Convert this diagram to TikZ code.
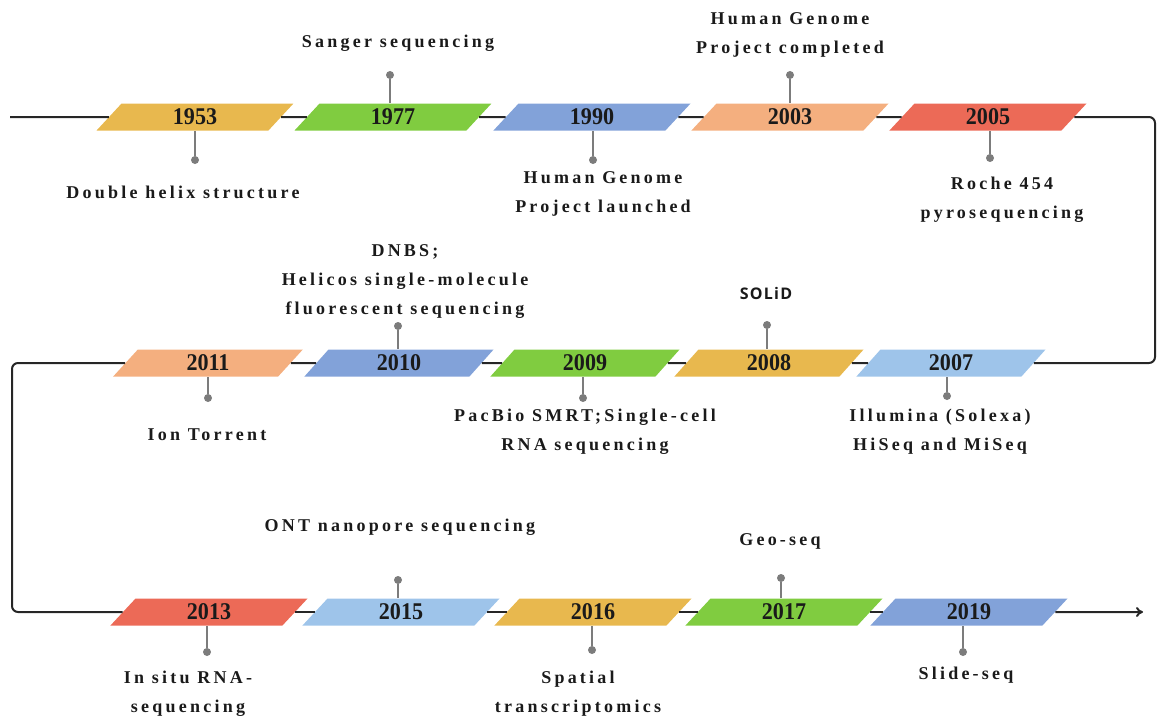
\documentclass[tikz,border=0pt]{standalone}
\usepackage{fontspec}
\setmainfont{Liberation Serif}
\newfontfamily\labfont{Liberation Serif}[LetterSpace=18]
\newfontfamily\yrfont{Liberation Serif}[FakeStretch=0.92]
\newfontfamily\solfont{Open Sans}[LetterSpace=8]
\usetikzlibrary{shapes.geometric,arrows.meta}
\definecolor{cyel}{HTML}{E8B84E}
\definecolor{cgrn}{HTML}{80CC40}
\definecolor{cblu}{HTML}{82A2D9}
\definecolor{cpch}{HTML}{F4AF7F}
\definecolor{cred}{HTML}{EC6A57}
\definecolor{clbl}{HTML}{9EC4EA}
\definecolor{cpin}{HTML}{7C7C7C}
\definecolor{ctxt}{HTML}{1A1A1A}
\begin{document}
\begin{tikzpicture}[x=1pt,y=-1pt,
  yr/.style={trapezium,trapezium stretches=true,trapezium left angle=65,trapezium right angle=115,
    minimum width=198pt,minimum height=27pt,inner sep=0pt,fill=#1,text=ctxt,font=\yrfont\bfseries\fontsize{24}{24}\selectfont},
  lab/.style={align=center,text=ctxt,inner sep=1pt,font=\labfont\bfseries\fontsize{18}{29}\selectfont},
  dot/.style={circle,fill=cpin,minimum size=8pt,inner sep=0pt},
  pin/.style={draw=cpin,line width=1.5pt},
  tl/.style={draw=black!85,line width=2pt}]
\useasboundingbox (0,0) rectangle (1157,718);
\coordinate (start) at (10,117);
\coordinate (rt) at (1155,0);
\coordinate (lf) at (12,0);
\coordinate (end) at (1143,612);
\node[yr=cyel] (y1953) at (195,117) {1953};
\node[yr=cgrn] (y1977) at (393,117) {1977};
\node[yr=cblu] (y1990) at (592,117) {1990};
\node[yr=cpch] (y2003) at (790,117) {2003};
\node[yr=cred] (y2005) at (988,117) {2005};
\node[yr=cpch,minimum width=190pt] (y2011) at (208,363) {2011};
\node[yr=cblu,minimum width=190pt] (y2010) at (399,363) {2010};
\node[yr=cgrn,minimum width=190pt] (y2009) at (585,363) {2009};
\node[yr=cyel,minimum width=190pt] (y2008) at (769,363) {2008};
\node[yr=clbl,minimum width=190pt] (y2007) at (951,363) {2007};
\node[yr=cred] (y2013) at (209,612) {2013};
\node[yr=clbl] (y2015) at (401,612) {2015};
\node[yr=cyel] (y2016) at (593,612) {2016};
\node[yr=cgrn] (y2017) at (784,612) {2017};
\node[yr=cblu] (y2019) at (969,612) {2019};
\draw[tl] (start) -- (y1953.west) (y1953.east) -- (y1977.west) (y1977.east) -- (y1990.west) (y1990.east) -- (y2003.west) (y2003.east) -- (y2005.west);
\draw[tl,rounded corners=6pt] (y2005.east) -- (y2005.east -| rt) |- (y2007.east);
\draw[tl] (y2007.west) -- (y2008.east) (y2008.west) -- (y2009.east) (y2009.west) -- (y2010.east) (y2010.west) -- (y2011.east);
\draw[tl,rounded corners=6pt] (y2011.west) -- (y2011.west -| lf) |- (y2013.west);
\draw[tl] (y2013.east) -- (y2015.west) (y2015.east) -- (y2016.west) (y2016.east) -- (y2017.west) (y2017.east) -- (y2019.west);
\draw[tl,-{To[length=7pt,width=10pt]}] (y2019.east) -- (end);
\node[dot] (d1953) at (195,160) {};
\node[dot] (d1977) at (390,75) {};
\node[dot] (d1990) at (593,160) {};
\node[dot] (d2003) at (790,75) {};
\node[dot] (d2005) at (990,158) {};
\node[dot] (d2011) at (208,398) {};
\node[dot] (d2010) at (398,326) {};
\node[dot] (d2009) at (583,398) {};
\node[dot] (d2008) at (767,325) {};
\node[dot] (d2007) at (947,396) {};
\node[dot] (d2013) at (207,652) {};
\node[dot] (d2015) at (398,580) {};
\node[dot] (d2016) at (592,650) {};
\node[dot] (d2017) at (781,578) {};
\node[dot] (d2019) at (963,652) {};
\draw[pin] (d1953) -- (d1953 |- y1953.south) (d1977) -- (d1977 |- y1977.north) (d1990) -- (d1990 |- y1990.south) (d2003) -- (d2003 |- y2003.north) (d2005) -- (d2005 |- y2005.south);
\draw[pin] (d2011) -- (d2011 |- y2011.south) (d2010) -- (d2010 |- y2010.north) (d2009) -- (d2009 |- y2009.south) (d2008) -- (d2008 |- y2008.north) (d2007) -- (d2007 |- y2007.south);
\draw[pin] (d2013) -- (d2013 |- y2013.south) (d2015) -- (d2015 |- y2015.north) (d2016) -- (d2016 |- y2016.south) (d2017) -- (d2017 |- y2017.north) (d2019) -- (d2019 |- y2019.south);
\node[lab] (l1953) at (183,192) {Double helix structure};
\node[lab] (l1977) at (398,43) {Sanger sequencing};
\node[lab] (l1990) at (603,194) {Human Genome\\Project launched};
\node[lab] (l2003) at (790,35) {Human Genome\\Project completed};
\node[lab] (l2005) at (1002,200) {Roche 454\\pyrosequencing};
\node[lab] (l2011) at (207,435) {Ion Torrent};
\node[lab] (l2010) at (405,282) {DNBS;\\Helicos single-molecule\\fluorescent sequencing};
\node[lab] (l2009) at (585,432) {PacBio SMRT;Single-cell\\RNA sequencing};
\node[lab,font=\solfont\bfseries\fontsize{16}{18}\selectfont] (l2008) at (766,293) {SOLiD};
\node[lab] (l2007) at (940,432) {Illumina (Solexa)\\HiSeq and MiSeq};
\node[lab] (l2013) at (188,694) {In situ RNA-\\sequencing};
\node[lab] (l2015) at (400,527) {ONT nanopore sequencing};
\node[lab] (l2016) at (578,694) {Spatial\\transcriptomics};
\node[lab] (l2017) at (780,541) {Geo-seq};
\node[lab] (l2019) at (966,675) {Slide-seq};
\end{tikzpicture}
\end{document}
